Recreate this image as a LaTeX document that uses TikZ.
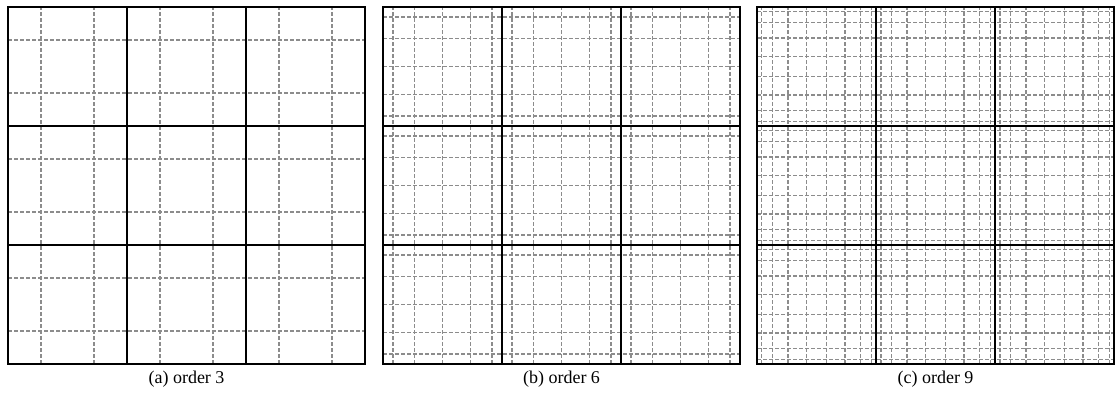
\documentclass[tikz,border=0pt]{standalone}
\usepackage{fontspec}
\setmainfont{Liberation Serif}
\usepackage{tikz}
\usetikzlibrary{arrows.meta}

\tikzset{
  elem/.style={black,line width=1pt},
  gll/.style={black!45,line width=0.7pt,dash pattern=on 1.8pt off 1.2pt},
  capt/.style={font=\fontsize{9}{11}\selectfont},
}
% one spectral element mesh: #1 = left edge, #2 = GLL nodes mapped to [0,1]
\newcommand{\gllpanel}[2]{%
  \foreach \i in {0,1,2}{
    \foreach \p in {#2}{
      \draw[gll]({#1+(\i+\p)*119},41)--++(0,357);
      \draw[gll](#1,{41+(\i+\p)*119})--++(357,0);
    }}
  \draw[elem](#1,41)rectangle++(357,357);
  \foreach \i in {1,2}{
    \draw[elem]({#1+\i*119},41)--++(0,357);
    \draw[elem](#1,{41+\i*119})--++(357,0);
  }}

\begin{document}
\begin{tikzpicture}[x=0.5pt,y=0.5pt]
\useasboundingbox(0,0)rectangle(1117,405);
\gllpanel{8}{0.2764,0.7236}
\gllpanel{383}{0.0849,0.2656,0.5,0.7344,0.9151}
\gllpanel{757}{0.0402,0.1306,0.2610,0.4174,0.5826,0.7390,0.8694,0.9598}
\node[capt](capa)at(186.5,26){(a) order 3};
\node[capt](capb)at(561.5,26){(b) order 6};
\node[capt](capc)at(935.5,26){(c) order 9};
\end{tikzpicture}
\end{document}
